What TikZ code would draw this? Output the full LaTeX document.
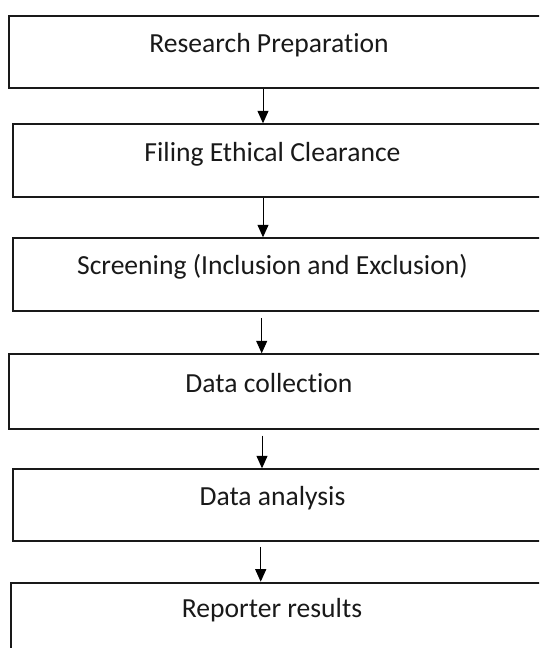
\documentclass[tikz,border=0pt]{standalone}
\usepackage{fontspec}
\setmainfont{Carlito}[Ligatures={NoCommon}, RawFeature={-liga;-clig;-calt;-dlig}]
\usetikzlibrary{arrows.meta}
\begin{document}
\begin{tikzpicture}[x=1pt,y=-1pt,
  stepbox/.style={draw=black!90, line width=1.8pt, rectangle, inner sep=0pt, anchor=north west},
  lbl/.style={anchor=base, inner sep=0pt, font=\fontsize{27.6}{31}\selectfont, text=black!90},
  flow/.style={line width=1pt, -{Triangle[length=12.5pt,width=11pt]}}]
\useasboundingbox (0,0) rectangle (539,648);
\clip (0,0) rectangle (539,648);
\node[stepbox, minimum width=537pt, minimum height=72pt] (b1) at (8,14.7) {};
\node[stepbox, minimum width=533pt, minimum height=72.4pt] (b2) at (12,123.3) {};
\node[stepbox, minimum width=533pt, minimum height=72.7pt] (b3) at (12,237.3) {};
\node[stepbox, minimum width=537pt, minimum height=74.4pt] (b4) at (8,353.3) {};
\node[stepbox, minimum width=533pt, minimum height=71.7pt] (b5) at (12,468.3) {};
\node[stepbox, minimum width=535pt, minimum height=90pt] (b6) at (10,581.7) {};
\node[lbl] (t1) at (269,52.7) {Research Preparation};
\node[lbl] (t2) at (272.5,161.3) {Filing Ethical Clearance};
\node[lbl] (t3) at (272.5,274.3) {Screening (Inclusion and Exclusion)};
\node[lbl] (t4) at (269,392.3) {Data collection};
\node[lbl] (t5) at (272.5,505.7) {Data analysis};
\node[lbl] (t6) at (272,617.7) {Reporter results};
\coordinate (a1) at (263,0);
\coordinate (a2) at (263,0);
\coordinate (a3) at (261.7,0);
\coordinate (a4) at (262,0);
\coordinate (a5) at (260.7,0);
\draw[flow] (b1.south -| a1) -- (b2.north -| a1);
\draw[flow] (b2.south -| a2) -- (b3.north -| a2);
\draw[flow, shorten <=6pt] (b3.south -| a3) -- (b4.north -| a3);
\draw[flow, shorten <=6pt] (b4.south -| a4) -- (b5.north -| a4);
\draw[flow, shorten <=5pt] (b5.south -| a5) -- (b6.north -| a5);
\end{tikzpicture}
\end{document}
